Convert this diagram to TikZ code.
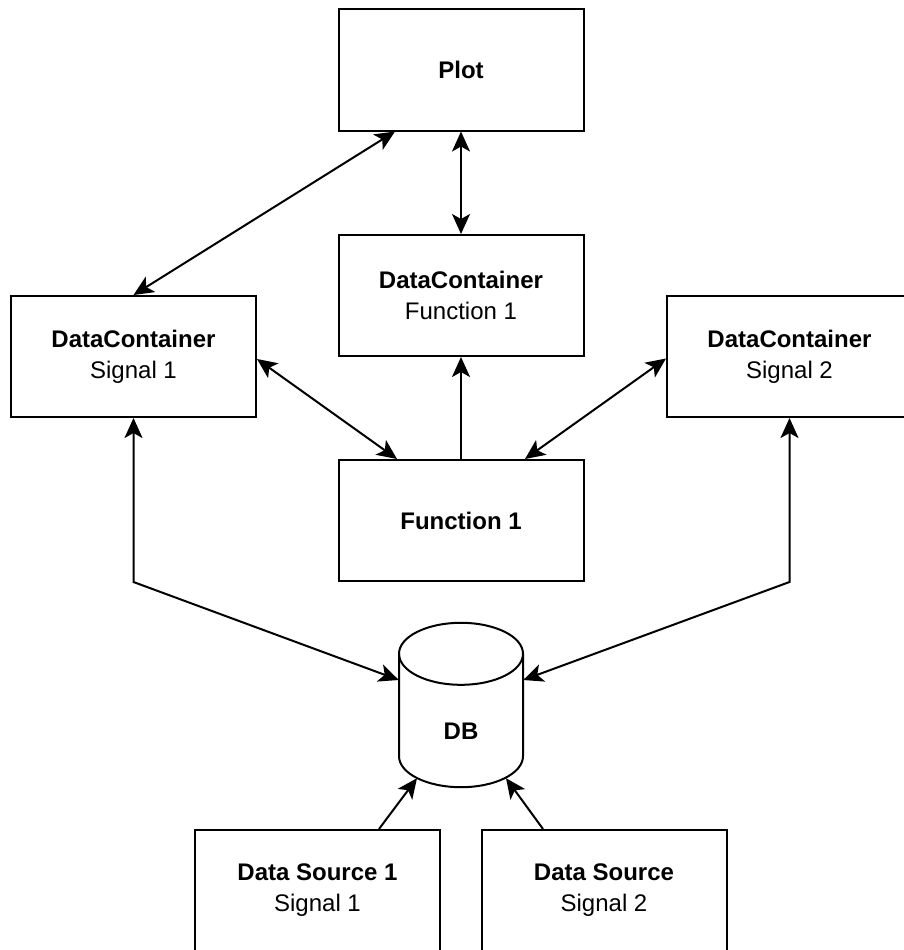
\documentclass[tikz,border=0pt]{standalone}
\usepackage{fontspec}
\setmainfont{Liberation Sans}
\usetikzlibrary{arrows.meta,calc}
\begin{document}
\begin{tikzpicture}[x=1pt,y=-1pt,
  >={Stealth[length=20pt,width=18pt,inset=5pt]},
  box/.style={draw, line width=2pt, minimum width=245pt, minimum height=121pt,
    align=center, inner sep=0pt, font=\fontsize{24}{31}\selectfont},
  dbbox/.style={minimum width=124pt, minimum height=164pt, inner sep=0pt},
  lbl/.style={inner sep=0pt, font=\fontsize{24}{31}\selectfont\bfseries},
  conn/.style={line width=2pt}]
\useasboundingbox (0,0) rectangle (904,950);

\node[box] (plot)  at (461,70)    {\textbf{Plot}};
\node[box] (dcf1)  at (461,295.5) {\textbf{DataContainer}\\Function 1};
\node[box] (dcs1)  at (133.5,356.5) {\textbf{DataContainer}\\Signal 1};
\node[box] (dcs2)  at (789.5,356.5) {\textbf{DataContainer}\\Signal 2};
\node[box] (func1) at (461,520.5) {\textbf{Function 1}};
\node[box] (ds1)   at (317.5,890.5) {\textbf{Data Source 1}\\Signal 1};
\node[box] (ds2)   at (604,890.5)   {\textbf{Data Source}\\Signal 2};

% DB cylinder
\node[dbbox] (db) at (461,705) {};
\coordinate (dbtop) at ($(db.north)+(0,31)$);
\coordinate (dbbot) at ($(db.south)+(0,-31)$);
\draw[conn, fill=white] (dbtop) ellipse (62pt and 31pt);
\draw[conn] ($(dbtop)+(-62,0)$) -- ($(dbbot)+(-62,0)$)
  arc[start angle=180, end angle=360, x radius=62pt, y radius=31pt]
  -- ($(dbtop)+(62,0)$);
\node[lbl] (dblabel) at ($(db.center)+(0,26)$) {DB};

% connectors
\draw[conn,<->] ($(plot.south)+(-66,0)$) -- (dcs1.north);
\draw[conn,<->] (plot.south) -- (dcf1.north);
\draw[conn,<->] ($(dcs1.east)+(0,2.5)$) -- ($(func1.north)+(-64,0)$);
\draw[conn,<->] ($(dcs2.west)+(0,2)$) -- ($(func1.north)+(64,0)$);
\draw[conn,->] (func1.north) -- (dcf1.south);
\draw[conn,<->] ($(db.west)+(0,-25)$) -- (dcs1.south |- func1.south) -- (dcs1.south);
\draw[conn,<->] ($(db.east)+(0,-25)$) -- (dcs2.south |- func1.south) -- (dcs2.south);
\draw[conn,->] ($(ds1.north)+(61.5,0)$) -- ($(db.south)+(-44,-9)$);
\draw[conn,->] ($(ds2.north)+(-61,0)$) -- ($(db.south)+(45,-9)$);
\end{tikzpicture}
\end{document}
